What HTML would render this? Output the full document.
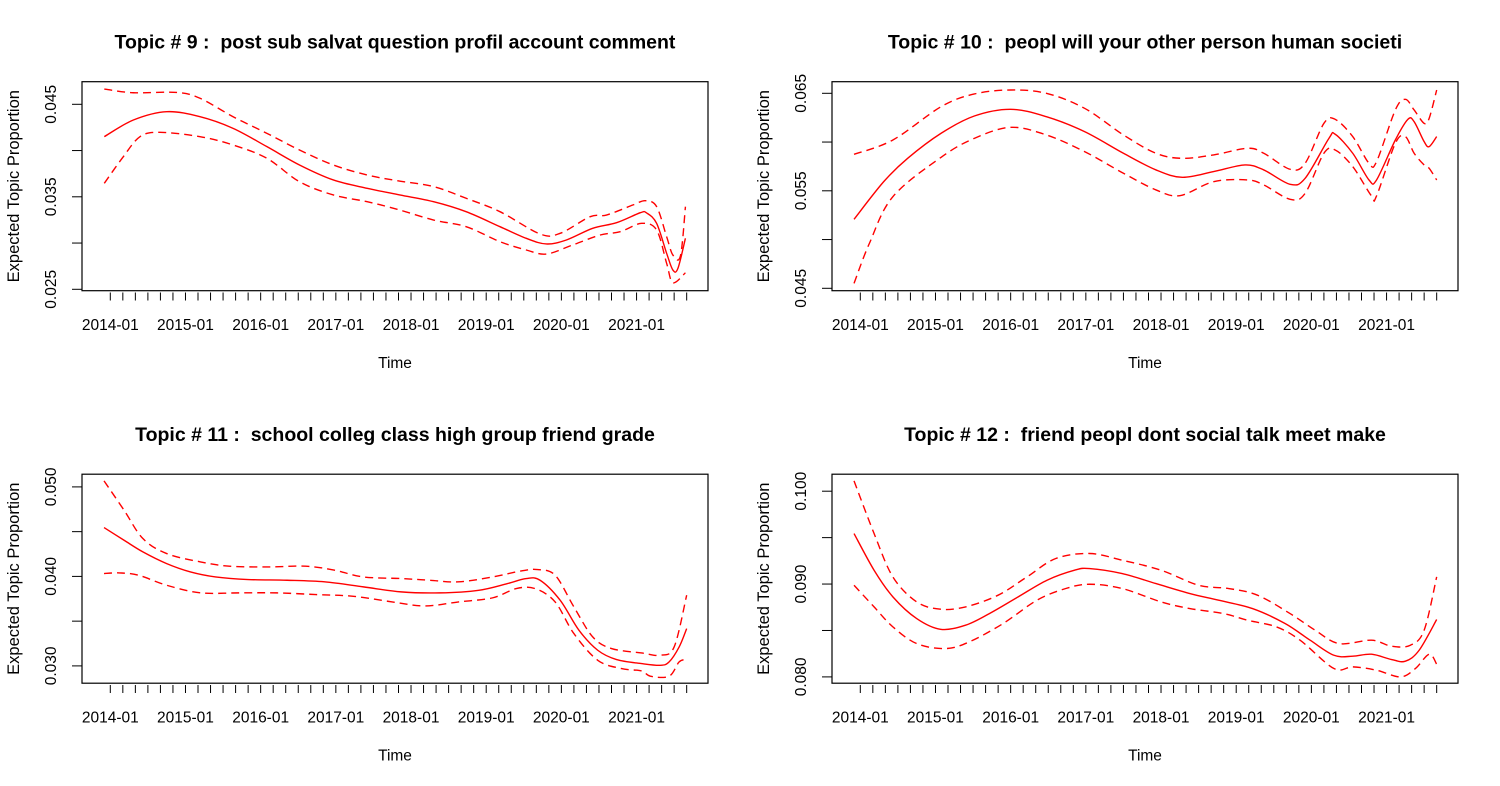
<!DOCTYPE html>
<html><head><meta charset="utf-8"><style>
html,body{margin:0;padding:0;background:#fff;}
svg{display:block;font-family:"Liberation Sans",Arial,sans-serif;}
text{white-space:pre;}
</style></head><body>
<svg id="chart" width="1500" height="786" viewBox="0 0 1500 786" xmlns="http://www.w3.org/2000/svg" xml:space="preserve"></svg>
<script>
// x positions in tick units (one tick = 2 months starting 2014-01)
const xTickLabels = ["2014-01","2015-01","2016-01","2017-01","2018-01","2019-01","2020-01","2021-01"];
const titles = ["Topic # 9 :  post sub salvat question profil account comment","Topic # 10 :  peopl will your other person human societi","Topic # 11 :  school colleg class high group friend grade","Topic # 12 :  friend peopl dont social talk meet make"];
const yTicks1=[0.025,0.030,0.035,0.040,0.045], yLabels1=["0.025","","0.035","","0.045"];
const yTicks2=[0.045,0.050,0.055,0.060,0.065], yLabels2=["0.045","","0.055","","0.065"];
const yTicks3=[0.030,0.035,0.040,0.045,0.050], yLabels3=["0.030","","0.040","","0.050"];
const yTicks4=[0.080,0.085,0.090,0.095,0.100], yLabels4=["0.080","","0.090","","0.100"];

const p1MeanT=[-0.48,1.84,4.5,7.16,9.8,12.5,15.1,17.8,20.5,23.1,25.8,28.4,31.1,33.2,34.8,36.4,38.5,40.4,42.3,42.8,43.6,44.4,44.9,45.3,45.9];
const p1MeanV=[.0415,.0433,.0442,.04366,.0424,.04042,.03844,.03682,.03592,.0352,.03447,.03339,.03177,.03051,.0299,.03033,.03159,.0322,.03328,.03326,.03213,.02889,.02708,.02726,.03051];
const p1UpT=[-0.48,1.84,5.3,7.16,9.8,12.5,15.1,17.8,20.5,22.9,25.8,28.4,31.1,34.3,35.9,38.3,39.6,41.7,42.7,43.6,44.4,44.9,45.5,45.9];
const p1UpV=[.04665,.04625,.04628,.04565,.04366,.04186,.04006,.03844,.03736,.03674,.0361,.03484,.03339,.03098,.03105,.03285,.03303,.03411,.03458,.03394,.03069,.0287,.0286,.03393];
const p1LoT=[-0.48,1.04,2.37,3.97,7.16,9.8,12.5,15.1,17.8,20.5,22.9,25.8,28.4,31.1,33.2,34.8,36.9,39.1,40.7,42.4,43.6,44.4,44.9,45.9];
const p1LoV=[.03646,.03934,.0415,.04197,.0415,.0406,.03916,.03663,.0352,.03447,.03365,.03249,.03177,.03015,.02925,.02881,.02979,.03087,.03123,.03213,.03141,.02781,.02571,.02679];

const p2MeanT=[-0.5,1.87,3.78,6.45,9.1,12,14.85,17.9,21,23.6,25.7,28.2,30.7,32.2,34.3,35.5,37.4,37.9,39.3,40.6,41.2,42.7,43.7,44.2,45,45.4,46];
const p2MeanV=[.05208,.05594,.05833,.0609,.06267,.06336,.0626,.06107,.05885,.05714,.05638,.05697,.05765,.05714,.05567,.05628,.06038,.0608,.05885,.05611,.05611,.06021,.06233,.06209,.06004,.05953,.06056];
const p2UpT=[-0.5,2.6,6.45,9.1,12,14.85,17.9,21,23.6,25.7,28.2,30.9,32.2,34.3,35.5,37,37.9,39.3,40.6,41.2,42.7,43.5,44.2,45,45.4,46];
const p2UpV=[.05874,.06021,.06363,.06493,.06534,.065,.06346,.06073,.05885,.05833,.05868,.05936,.05885,.05721,.05782,.06192,.06233,.06056,.05782,.05799,.06329,.06438,.06329,.06192,.06243,.06534];
const p2LoT=[-0.5,0.73,2.6,6.45,9.1,12,14.85,17.9,21,23.6,25.5,28.2,30.9,32.2,34.3,35.5,37,37.9,39.3,40.8,41.2,42.7,43.5,44.2,45,45.4,46];
const p2LoV=[.04551,.04962,.0544,.05844,.06038,.06151,.06073,.05902,.0568,.05509,.0545,.05594,.05611,.0556,.05413,.05474,.05885,.05919,.05748,.05447,.05447,.05987,.06056,.05885,.05765,.05731,.05611];

const p3MeanT=[-0.5,1.1,2.6,4.5,6.4,8.4,11,14.1,17.1,20.2,23.2,26.3,29.4,31.7,33.2,34.3,35.9,37.4,38.9,40.4,42.4,43.9,44.6,45.4,46];
const p3MeanV=[.04546,.04404,.04274,.04143,.0405,.03994,.03965,.03957,.03939,.03883,.03827,.03816,.03845,.0392,.03976,.03957,.03734,.03399,.03175,.03071,.03026,.03007,.03045,.03212,.03417];
const p3UpT=[-0.5,1.1,2.6,4.5,7.2,9.5,12.6,15.6,17.9,20.2,23.2,25.5,27.8,30.5,32.8,34.1,35.5,37,38.5,40,42.4,43.9,45,46];
const p3UpV=[.05067,.04739,.04423,.04255,.04162,.04114,.04106,.04114,.04069,.03994,.03976,.03957,.03939,.03994,.04061,.04076,.04013,.03659,.03324,.03194,.03145,.03119,.03212,.0379];
const p3LoT=[-0.5,0.73,2.25,4.5,7.2,10.3,13.3,16.4,19.4,22.5,25.1,27.8,30.5,32.4,33.9,35.5,37,38.9,40.8,42.4,43.1,44.6,45.4,46];
const p3LoV=[.04032,.04039,.04013,.03901,.03816,.03816,.03816,.03797,.03778,.03715,.0367,.03715,.0376,.03864,.03864,.03715,.03361,.03063,.0297,.02944,.02885,.02885,.03045,.03071];

const p4MeanT=[-0.5,1.1,2.6,4.5,6.4,8.4,10.3,12.6,14.9,17.1,18.3,20.9,23.6,26.3,28.6,31.3,33.9,35.9,37.8,39.3,40.8,42.4,43.5,44.6,46];
const p4MeanV=[.09544,.09149,.08862,.08628,.08513,.08557,.08682,.08862,.09041,.09149,.09167,.09113,.09005,.08898,.08826,.08736,.08575,.08395,.08233,.08223,.08244,.08187,.08169,.08287,.08618];
const p4UpT=[-0.5,1.1,2.6,4.5,6.4,8.4,11,13.3,15.6,18.3,20.9,24,27,29.4,31.7,34.3,36.3,38.2,40.8,42.4,43.9,45,46];
const p4UpV=[.10111,.09544,.09077,.08808,.08729,.08754,.0888,.09077,.09275,.09329,.09257,.09149,.08987,.08952,.0888,.08682,.08503,.08359,.08395,.0833,.08341,.08503,.09077];
const p4LoT=[-0.5,1.1,2.6,4.5,6.8,8.7,11.4,14.1,16.4,18.3,20.9,24,26.3,29,30.9,33.2,35.1,37.8,39.3,41.2,43.1,44.3,45.4,46];
const p4LoV=[.08987,.08754,.08539,.08359,.08305,.08377,.08575,.08826,.08952,.08998,.08952,.08808,.08736,.08682,.0861,.08539,.08395,.0809,.08108,.08072,.08,.0809,.08244,.08136];

const NS="http://www.w3.org/2000/svg";
const svg=document.getElementById('chart');
function mk(tag,attrs,parent){const e=document.createElementNS(NS,tag);for(const k in attrs)e.setAttribute(k,attrs[k]);(parent||svg).appendChild(e);return e;}

const panels=[
 {ox:0,oy:0,yT:yTicks1,yL:yLabels1,ref:[0.045,22.6,0.025,207.6],m:[p1MeanT,p1MeanV],u:[p1UpT,p1UpV],l:[p1LoT,p1LoV]},
 {ox:750,oy:0,yT:yTicks2,yL:yLabels2,ref:[0.065,11.6,0.045,206.6],m:[p2MeanT,p2MeanV],u:[p2UpT,p2UpV],l:[p2LoT,p2LoV]},
 {ox:0,oy:392.5,yT:yTicks3,yL:yLabels3,ref:[0.050,12.7,0.030,191.7],m:[p3MeanT,p3MeanV],u:[p3UpT,p3UpV],l:[p3LoT,p3LoV]},
 {ox:750,oy:392.5,yT:yTicks4,yL:yLabels4,ref:[0.100,17,0.080,202.7],m:[p4MeanT,p4MeanV],u:[p4UpT,p4UpV],l:[p4LoT,p4LoV]}
];
const BOXL=82,BOXR=708,BOXT=81.7,BOXB=290.7,T0X=110.3,TSP=12.53;

function smoothPath(pts){
 let d=`M${pts[0][0].toFixed(2)},${pts[0][1].toFixed(2)}`;
 for(let i=0;i<pts.length-1;i++){
  const p0=pts[Math.max(0,i-1)],p1=pts[i],p2=pts[i+1],p3=pts[Math.min(pts.length-1,i+2)];
  const c1=[p1[0]+(p2[0]-p0[0])/6,p1[1]+(p2[1]-p0[1])/6];
  const c2=[p2[0]-(p3[0]-p1[0])/6,p2[1]-(p3[1]-p1[1])/6];
  d+=` C${c1[0].toFixed(2)},${c1[1].toFixed(2)} ${c2[0].toFixed(2)},${c2[1].toFixed(2)} ${p2[0].toFixed(2)},${p2[1].toFixed(2)}`;
 }
 return d;
}

panels.forEach((p,pi)=>{
 const g=mk('g',{transform:`translate(${p.ox},${p.oy})`});
 
 
 const xs=t=>T0X+t*TSP;
 const [v1,y1,v2,y2]=p.ref;
 const ys=v=>BOXT+y1+(v1-v)/(v1-v2)*(y2-y1);
 const title=mk('text',{x:395,y:48.5,'text-anchor':'middle','font-size':'19.5','font-weight':'bold',fill:'#000'},g);
 title.textContent=titles[pi];
 
 
 const box=mk('rect',{x:BOXL,y:BOXT,width:BOXR-BOXL,height:BOXB-BOXT,fill:'none',stroke:'#000','stroke-width':1.2},g);
 
 
 p.yT.forEach((v,i)=>{
  const y=ys(v);
  const tk=mk('line',{x1:72,x2:BOXL,y1:y,y2:y,stroke:'#000','stroke-width':1},g);
  
  
  if(p.yL[i]){
   const t=mk('text',{x:0,y:0,transform:`translate(56,${y}) rotate(-90)`,'text-anchor':'middle','font-size':'15.5',fill:'#000'},g);
   t.textContent=p.yL[i];
   
   
  }
 });
 const yt=mk('text',{x:0,y:0,transform:`translate(19,${(BOXT+BOXB)/2}) rotate(-90)`,'text-anchor':'middle','font-size':'16.5',fill:'#000'},g);
 yt.textContent='Expected Topic Proportion';
 
 
 for(let i=0;i<=46;i++){
  const x=xs(i);
  const tk=mk('line',{x1:x,x2:x,y1:292.5,y2:300.5,stroke:'#000','stroke-width':1},g);
  
  
 }
 xTickLabels.forEach((lab,i)=>{
  const t=mk('text',{x:xs(i*6),y:330,'text-anchor':'middle','font-size':'15.5',fill:'#000'},g);
  t.textContent=lab;
  
  
 });
 const xt=mk('text',{x:395,y:368,'text-anchor':'middle','font-size':'15.5',fill:'#000'},g);
 xt.textContent='Time';
 
 
 [['m','mean-line',null],['u','upper-ci-line','8,5'],['l','lower-ci-line','8,5']].forEach(([k,name,dash])=>{
  const [T,V]=p[k];
  const pts=T.map((t,i)=>[xs(t),ys(V[i])]);
  const a={d:smoothPath(pts),fill:'none',stroke:'#ff0000','stroke-width':1.4};
  if(dash)a['stroke-dasharray']=dash;
  const path=mk('path',a,g);
  
  
 });
});
</script>
</body></html>
